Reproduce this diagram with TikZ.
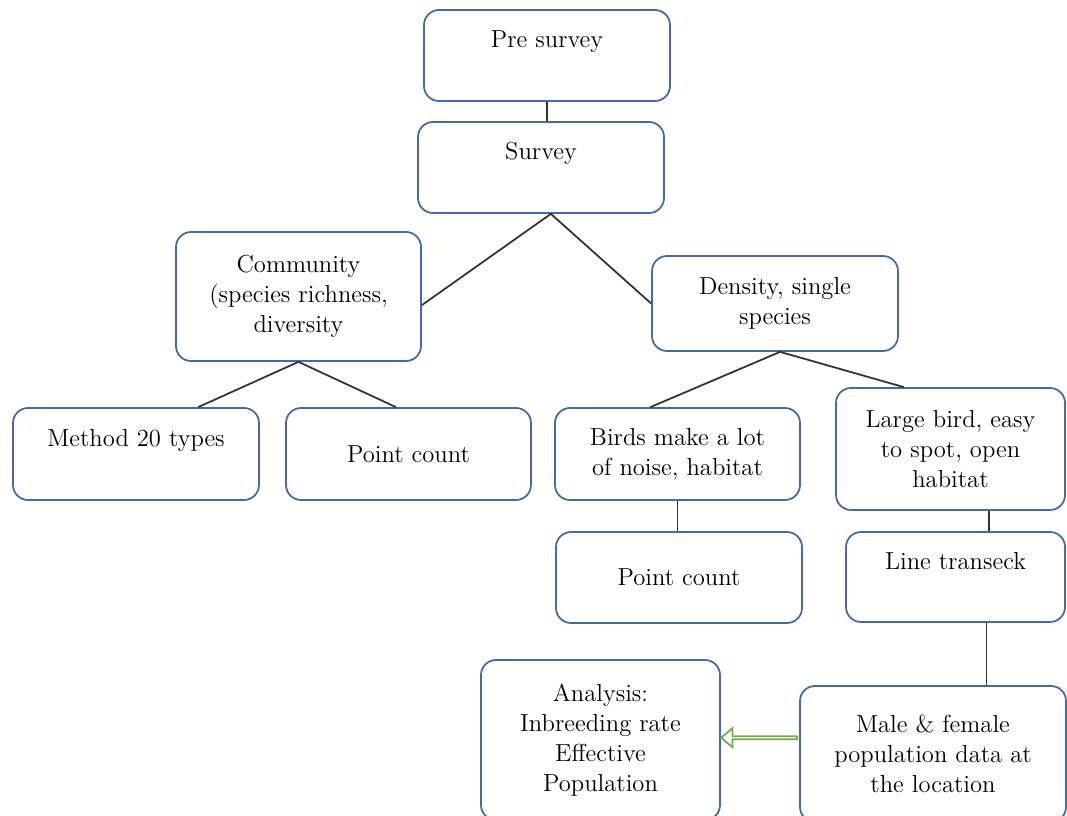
\documentclass[tikz,border=0pt]{standalone}
\usepackage{xcolor}
\usepackage{tikz}
\usetikzlibrary{shapes.arrows}
\definecolor{boxblue}{RGB}{66,106,172}
\definecolor{linegray}{RGB}{50,50,50}
\definecolor{arrowgreen}{RGB}{112,173,71}
\tikzset{
  blk/.style={draw=boxblue, line width=1pt, rounded corners=0.3cm, align=center,
              inner sep=0pt, font=\fontsize{14}{17}\selectfont},
  upper/.style={text height=10pt, text depth=19pt},
  link/.style={draw=linegray, line width=1pt},
  hollowarrow/.style={single arrow, draw=arrowgreen, fill=white, line width=1pt,
              inner sep=0pt, minimum width=0.38cm, minimum height=1.52cm,
              single arrow head extend=0.09cm, single arrow tip angle=80,
              shape border rotate=180}
}
\begin{document}
\begin{tikzpicture}
      \useasboundingbox (0,0) rectangle (21.34,-16.32);
      \node[blk,upper,minimum width=4.92cm,minimum height=1.82cm] (pre)    at (10.94, -1.11) {Pre survey};
      \node[blk,upper,minimum width=4.92cm,minimum height=1.82cm] (survey) at (10.82, -3.35) {Survey};
      \node[blk,minimum width=4.90cm,minimum height=2.58cm]       (comm)   at ( 5.97, -5.93) {Community\\(species richness,\\diversity};
      \node[blk,minimum width=4.92cm,minimum height=1.90cm]       (dens)   at (15.50, -6.07) {Density, single\\species};
      \node[blk,upper,minimum width=4.92cm,minimum height=1.84cm] (meth)   at ( 2.72, -9.08) {Method 20 types};
      \node[blk,minimum width=4.90cm,minimum height=1.84cm]       (pcl)    at ( 8.17, -9.08) {Point count};
      \node[blk,minimum width=4.90cm,minimum height=1.84cm]       (birds)  at (13.55, -9.08) {Birds make a lot\\of noise, habitat};
      \node[blk,minimum width=4.58cm,minimum height=2.44cm]       (large)  at (19.01, -8.98) {Large bird, easy\\to spot, open\\habitat};
      \node[blk,minimum width=4.92cm,minimum height=1.82cm]       (pcr)    at (13.58,-11.55) {Point count};
      \node[blk,upper,minimum width=4.38cm,minimum height=1.80cm] (line)   at (19.11,-11.54) {Line transeck};
      \node[blk,minimum width=5.32cm,minimum height=2.72cm]       (male)   at (18.66,-15.08) {Male \& female\\population data at\\the location};
      \node[blk,minimum width=4.78cm,minimum height=3.20cm]       (anal)   at (12.01,-14.80) {Analysis:\\Inbreeding rate\\Effective\\Population};
      \draw[link] (pre.south) -- (pre.south |- survey.north);
      \draw[link] (comm.-4) -- (survey.-78) -- (dens.west);
      \draw[link] (meth.37) -- (comm.south) -- (pcl.105);
      \draw[link] (birds.120) -- (dens.-84) -- (large.127);
      \draw[link] (birds.south) -- (birds.south |- pcr.north);
      \draw[link] (large.-58) -- (large.-58 |- line.north);
      \draw[link] (line.-56) -- (line.-56 |- male.north);
      \path (male.173) -- (anal.1) node[midway,hollowarrow] (arr) {};
\end{tikzpicture}
\end{document}
